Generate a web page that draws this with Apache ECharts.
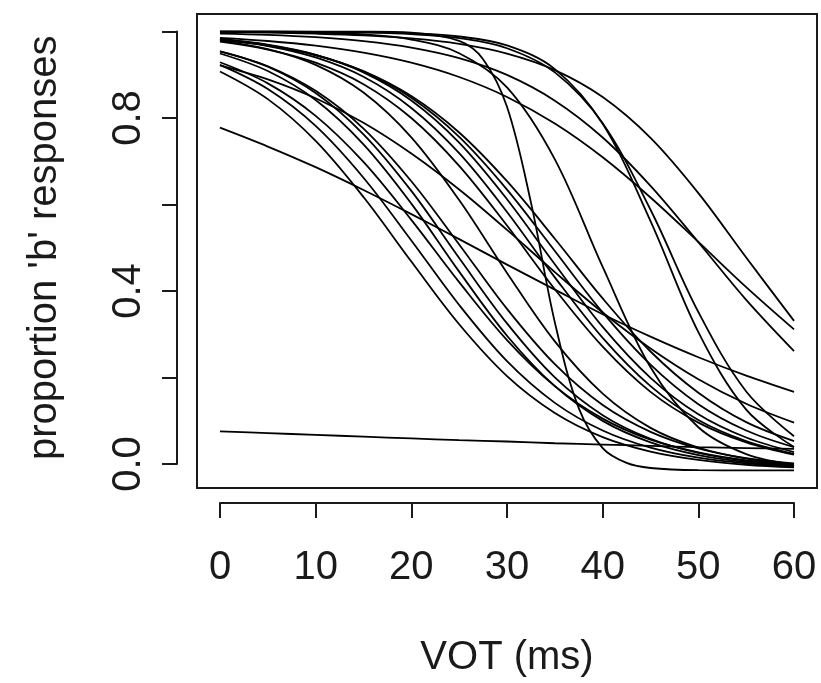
<!DOCTYPE html>
<html>
<head>
<meta charset="utf-8">
<script src="https://cdn.jsdelivr.net/npm/echarts@6/dist/echarts.min.js"></script>
<style>
html,body{margin:0;padding:0;background:#fff;}
#chart{width:821px;height:683px;}
</style>
</head>
<body>
<div id="chart"></div>
<script>
// VOT values (ms) at which each curve is read
const vot = [0, 5, 10, 15, 20, 25, 30, 35, 40, 45, 50, 55, 60];
const votSteep = [0, 5, 10, 15, 20, 25, 27.5, 30, 32.5, 35, 37.5, 40, 42.5, 45, 50, 55, 60];
const xTicks = ['0', '10', '20', '30', '40', '50', '60'];
const yTicks = ['0.0', '0.4', '0.8'];

// proportion 'b' responses, one array per listener
const curveA  = [0.089,0.085,0.081,0.077,0.073,0.069,0.066,0.062,0.059,0.056,0.053,0.051,0.049];
const curveB  = [0.781,0.738,0.691,0.639,0.584,0.527,0.469,0.412,0.356,0.305,0.258,0.216,0.179];
const curveL1 = [0.909,0.846,0.751,0.623,0.476,0.333,0.215,0.131,0.076,0.043,0.024,0.013,0.007];
const curveL2 = [0.924,0.869,0.785,0.667,0.524,0.377,0.249,0.154,0.091,0.052,0.029,0.016,0.009];
const curveMa = [0.923,0.891,0.848,0.792,0.722,0.640,0.548,0.452,0.360,0.278,0.208,0.152,0.109];
const curveM1 = [0.981,0.968,0.946,0.910,0.853,0.770,0.659,0.528,0.392,0.271,0.177,0.110,0.067];
const curveM2 = [0.983,0.969,0.947,0.909,0.849,0.760,0.640,0.500,0.360,0.241,0.151,0.091,0.053];
const curveM3 = [0.983,0.970,0.947,0.907,0.843,0.747,0.618,0.470,0.327,0.211,0.128,0.075,0.042];
const curveM4 = [0.981,0.967,0.941,0.897,0.826,0.723,0.589,0.440,0.302,0.192,0.115,0.067,0.038];
const curveM5 = [0.977,0.959,0.929,0.880,0.803,0.694,0.558,0.413,0.282,0.179,0.109,0.064,0.036];
const curveM6 = [0.979,0.960,0.924,0.861,0.759,0.616,0.450,0.294,0.175,0.097,0.052,0.027,0.014];
const curveM7 = [0.955,0.921,0.865,0.779,0.659,0.515,0.368,0.242,0.149,0.088,0.050,0.028,0.016];
const curveM8 = [0.955,0.920,0.860,0.766,0.637,0.484,0.335,0.212,0.126,0.072,0.040,0.022,0.012];
const curveMb = [0.950,0.910,0.844,0.743,0.608,0.453,0.307,0.192,0.113,0.064,0.035,0.019,0.010];
const curveM9 = [0.930,0.882,0.808,0.703,0.571,0.429,0.297,0.192,0.118,0.070,0.041,0.023,0.013];
const curveS1 = [0.9999,0.9997,0.9991,0.9977,0.9941,0.985,0.962,0.907,0.791,0.594,0.361,0.180,0.078];
const curveS2 = [0.9999,0.9998,0.9995,0.9986,0.996,0.9887,0.9683,0.9145,0.7897,0.568,0.315,0.1386,0.0533];
const curveS3 = [0.9997,0.9992,0.9977,0.9935,0.9819,0.9507,0.8727,0.7089,0.4638,0.2351,0.0984,0.0373,0.0136];
const curveT1 = [0.9986,0.9974,0.9952,0.9914,0.9843,0.9718,0.9498,0.9121,0.8507,0.7577,0.6318,0.485,0.3407];
const curveT2 = [0.9857,0.9785,0.9678,0.952,0.9291,0.8964,0.851,0.7905,0.7136,0.622,0.5207,0.4177,0.3214];
const curveT3 = [0.9955,0.9924,0.9871,0.9783,0.9636,0.9395,0.9012,0.8425,0.7586,0.6484,0.52,0.3887,0.2719];
const curveS4 = [1,1,1,0.9998,0.9977,0.9786,0.937,0.8285,0.6107,0.3374,0.1419,0.0509,0.0171,0.0056,0.0006,0.0001,0];

const curves = [curveA, curveB, curveL1, curveL2, curveMa, curveM1, curveM2, curveM3, curveM4,
  curveM5, curveM6, curveM7, curveM8, curveMb, curveM9, curveS1, curveS2, curveS3, curveT1, curveT2, curveT3];

const FONT = '"Liberation Sans", Arial, Helvetica, sans-serif';
const INK = '#1a1a1a';
const chart = echarts.init(document.getElementById('chart'), null, {renderer: 'canvas'});

function mk(xsArr, ys) {
  return {
    type: 'line', xAxisIndex: 0, yAxisIndex: 0,
    data: xsArr.map((x, i) => [x, ys[i]]),
    showSymbol: false, symbol: 'none', smooth: 0.35,
    lineStyle: {color: '#000', width: 1.8}, silent: true
  };
}
const series = curves.map(c => mk(vot, c));
series.push(mk(votSteep, curveS4));

const option = {
  animation: false,
  backgroundColor: '#fff',
  grid: [
    {left: 197, top: 14, width: 620, height: 474, show: true, borderColor: INK, borderWidth: 2, backgroundColor: 'transparent'},
    {left: 220, top: 31.5, width: 574, height: 437.5, show: false}
  ],
  xAxis: [
    {gridIndex: 0, type: 'value', min: -2.4, max: 62.4, show: false},
    {gridIndex: 1, type: 'value', min: 0, max: 60, interval: 10, offset: 39,
     axisLine: {show: true, onZero: false, lineStyle: {color: INK, width: 2}},
     axisTick: {show: true, length: 15, lineStyle: {color: INK, width: 2}},
     splitLine: {show: false},
     axisLabel: {color: INK, fontSize: 40, fontFamily: FONT, margin: 45,
       formatter: v => xTicks[Math.round(v / 10)]},
     name: 'VOT (ms)', nameLocation: 'middle', nameGap: 135,
     nameTextStyle: {color: INK, fontSize: 40, fontFamily: FONT}}
  ],
  yAxis: [
    {gridIndex: 0, type: 'value', min: -0.04, max: 1.04, show: false},
    {gridIndex: 1, type: 'value', min: 0, max: 1, interval: 0.2, offset: 43,
     axisLine: {show: true, onZero: false, lineStyle: {color: INK, width: 2}},
     axisTick: {show: true, length: 15, lineStyle: {color: INK, width: 2}},
     splitLine: {show: false},
     axisLabel: {color: INK, fontSize: 40, fontFamily: FONT, rotate: 90, margin: 28,
       formatter: v => { const k = Math.round(v * 10); return k % 4 === 0 ? yTicks[k / 4] : ''; }},
     name: "proportion 'b' responses", nameLocation: 'middle', nameGap: 112, nameRotate: 90,
     nameTextStyle: {color: INK, fontSize: 40, fontFamily: FONT}}
  ],
  series: series
};
chart.setOption(option);
</script>
</body>
</html>
